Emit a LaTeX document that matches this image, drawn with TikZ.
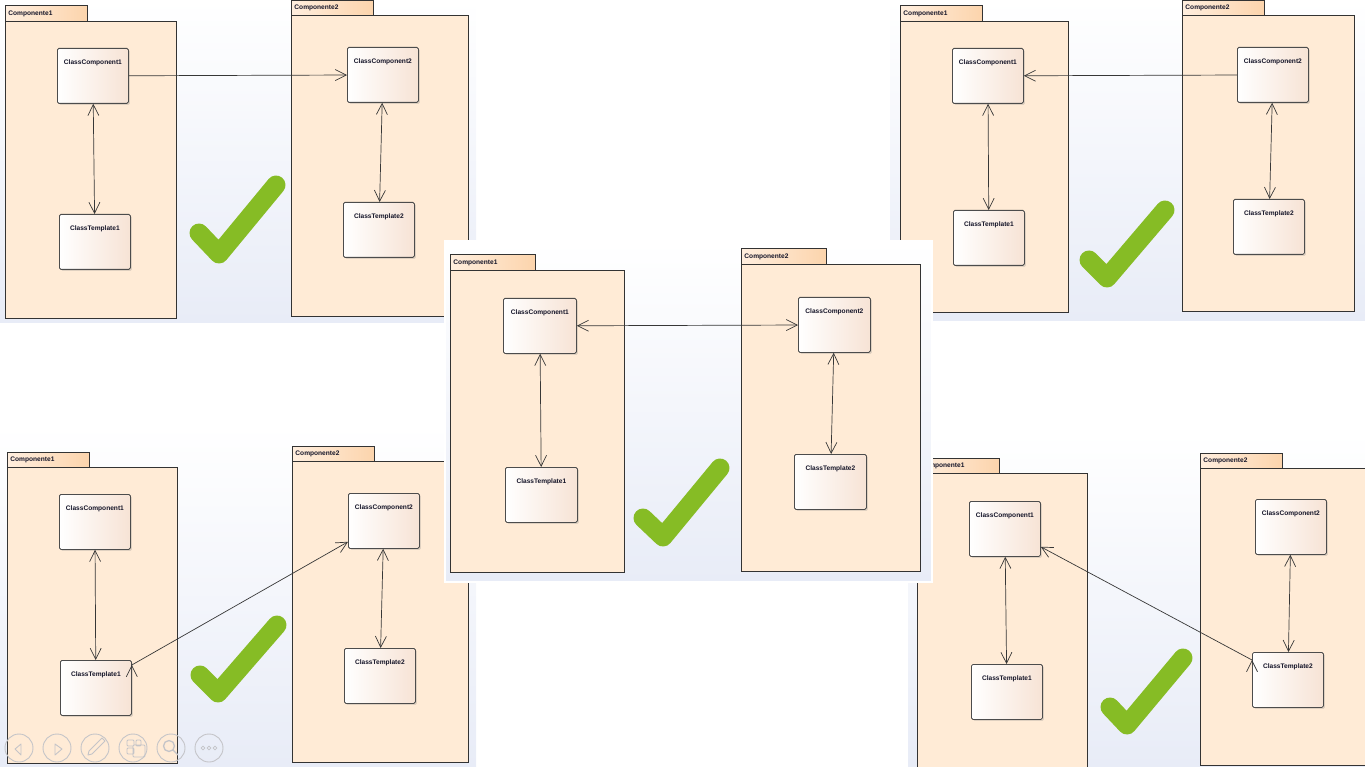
\documentclass[tikz,border=0pt]{standalone}
\usepackage{fontspec}
\setmainfont{Liberation Sans}
\usetikzlibrary{arrows.meta,shadows}
\definecolor{pkgfill}{RGB}{255,235,214}
\definecolor{tableft}{RGB}{255,238,222}
\definecolor{tabright}{RGB}{252,212,172}
\definecolor{classright}{RGB}{247,227,213}
\definecolor{bgbottom}{RGB}{232,236,247}
\definecolor{linegray}{RGB}{55,55,55}
\definecolor{labelblue}{RGB}{20,20,40}
\definecolor{checkgreen}{RGB}{134,188,37}
\definecolor{toolgray}{RGB}{196,196,200}

\begin{document}
\begin{tikzpicture}[x=1pt,y=-1pt,>={Straight Barb[length=11pt,width=11pt]},
  panel/.style={top color=white,bottom color=bgbottom},
  pkgbody/.style={fill=pkgfill,draw=black!80,line width=0.9pt},
  pkgtab/.style={anchor=north west,left color=tableft,right color=tabright,draw=black!80,line width=0.9pt,text width=76pt,inner xsep=3pt,inner ysep=0pt,minimum height=16pt,align=left,text=labelblue,font=\fontsize{6.6}{7}\selectfont\bfseries},
  classbox/.style={anchor=north west,rounded corners=1.5pt,left color=white,right color=classright,draw=black!70,line width=0.8pt,minimum width=71pt,text height=5pt,text depth=28pt,inner ysep=11pt,text=labelblue,font=\fontsize{6.6}{7}\selectfont\bfseries,drop shadow={shadow xshift=1.5pt,shadow yshift=-1.5pt,opacity=0.25}},
  link/.style={draw=linegray,line width=0.7pt},
  check/.style={draw=checkgreen,line width=19pt,line cap=round,line join=round}]
  \useasboundingbox (0,0) rectangle (1365,767);

  \fill[panel] (0,0) rectangle (476,322);
  \draw[pkgbody] (5,21) rectangle (176,318);
  \draw[pkgbody] (291,15) rectangle (468,316);
  \node[pkgtab] (tlpkg1) at (5,5) {Componente1};
  \node[pkgtab,minimum height=15pt] (tlpkg2) at (291,0) {Componente2};
  \node[classbox] (tlcc1) at (57,48) {ClassComponent1};
  \node[classbox] (tlct1) at (59,214) {ClassTemplate1};
  \node[classbox] (tlcc2) at (347,47) {ClassComponent2};
  \node[classbox] (tlct2) at (343,202) {ClassTemplate2};
  \path[link,<->] (tlcc1) edge (tlct1)
                  (tlcc2) edge (tlct2);
  \path[link,->] (tlcc1) edge (tlcc2);
  \draw[check] (199,233) -- (219,254) -- (276,185);

  \fill[panel] (890,0) rectangle (1365,320);
  \draw[pkgbody] (900,21) rectangle (1068,312);
  \draw[pkgbody] (1182,15) rectangle (1354,311);
  \node[pkgtab] (trpkg1) at (900,5) {Componente1};
  \node[pkgtab,minimum height=15pt] (trpkg2) at (1182,0) {Componente2};
  \node[classbox] (trcc1) at (952,48) {ClassComponent1};
  \node[classbox] (trct1) at (953,210) {ClassTemplate1};
  \node[classbox] (trcc2) at (1237,47) {ClassComponent2};
  \node[classbox] (trct2) at (1233,199) {ClassTemplate2};
  \path[link,<->] (trcc1) edge (trct1)
                  (trcc2) edge (trct2);
  \path[link,->] (trcc2) edge (trcc1);
  \draw[check] (1089,260) -- (1107,278) -- (1165,210);

  \fill[panel] (0,425) rectangle (476,767);
  \draw[pkgbody] (7,467) rectangle (177,763);
  \draw[pkgbody] (292,461) rectangle (468,762);
  \node[pkgtab,minimum height=15pt] (blpkg1) at (7,452) {Componente1};
  \node[pkgtab,minimum height=15pt] (blpkg2) at (292,446) {Componente2};
  \node[classbox] (blcc1) at (59,494) {ClassComponent1};
  \node[classbox] (blct1) at (60,660) {ClassTemplate1};
  \node[classbox] (blcc2) at (348,493) {ClassComponent2};
  \node[classbox] (blct2) at (344,648) {ClassTemplate2};
  \path[link,<->] (blcc1) edge (blct1)
                  (blcc2) edge (blct2);
  \path[link,->] ([yshift=-5pt]blct1.north east) edge ([yshift=7pt]blcc2.south west);
  \draw[check] (200,675) -- (218,693) -- (277,625);

  \fill[panel] (908,432) rectangle (1365,767);
  \draw[pkgbody] (917,473) rectangle (1087,767);
  \draw[pkgbody] (1200,468) rectangle (1372,765);
  \node[pkgtab,minimum height=15pt] (brpkg1) at (917,458) {Componente1};
  \node[pkgtab,minimum height=15pt] (brpkg2) at (1200,453) {Componente2};
  \node[classbox] (brcc1) at (969,501) {ClassComponent1};
  \node[classbox] (brct1) at (971,664) {ClassTemplate1};
  \node[classbox] (brcc2) at (1255,499) {ClassComponent2};
  \node[classbox] (brct2) at (1252,652) {ClassTemplate2};
  \path[link,<->] (brcc1) edge (brct1)
                  (brcc2) edge (brct2);
  \path[link,->] ([yshift=-8pt]brct2.north west) edge ([yshift=10pt]brcc1.south east);
  \draw[check] (1110,707) -- (1127,725) -- (1183,658);

  \fill[panel] (445,241) rectangle (932,582);
  \draw[white,line width=1.5pt] (445,241) rectangle (932,582);
  \draw[pkgbody] (450,270) rectangle (624,572);
  \draw[pkgbody] (741,264) rectangle (920,571);
  \node[pkgtab,text width=79pt] (mpkg1) at (450,254) {Componente1};
  \node[pkgtab,text width=79pt] (mpkg2) at (741,248) {Componente2};
  \node[classbox,minimum width=73pt] (mcc1) at (503,298) {ClassComponent1};
  \node[classbox,minimum width=72pt] (mct1) at (505,467) {ClassTemplate1};
  \node[classbox,minimum width=72pt] (mcc2) at (798,297) {ClassComponent2};
  \node[classbox,minimum width=72pt] (mct2) at (794,454) {ClassTemplate2};
  \path[link,<->] (mcc1) edge (mct1)
                  (mcc2) edge (mct2)
                  (mcc1) edge (mcc2);
  \draw[check] (643,518) -- (663,537) -- (720,468);

  \foreach \x in {19,57,95,133,171,209}
    \draw[toolgray,line width=0.9pt] (\x,748) circle (14pt);
  \draw[toolgray,line width=0.9pt,line join=round] (15,749) -- (21,744) -- (21,755) -- cycle;
  \draw[toolgray,line width=0.9pt,line join=round] (55,744) -- (62,749) -- (55,755) -- cycle;
  \draw[toolgray,line width=0.9pt,line join=round] (88,755) -- (89,751) -- (102,738) -- (105,741) -- (92,754) -- cycle;
  \draw[toolgray,line width=0.9pt,rounded corners=1pt] (127,740) rectangle (134,746) (127,748) rectangle (134,754) (136,740) rectangle (141,746) (133,745) rectangle (145,757);
  \draw[toolgray,line width=1.3pt] (169,746) circle (5.5pt) (173,750) -- (178,755);
  \foreach \x in {203,209,215}
    \draw[toolgray,line width=0.7pt] (\x,748) circle (1.8pt);
\end{tikzpicture}
\end{document}
